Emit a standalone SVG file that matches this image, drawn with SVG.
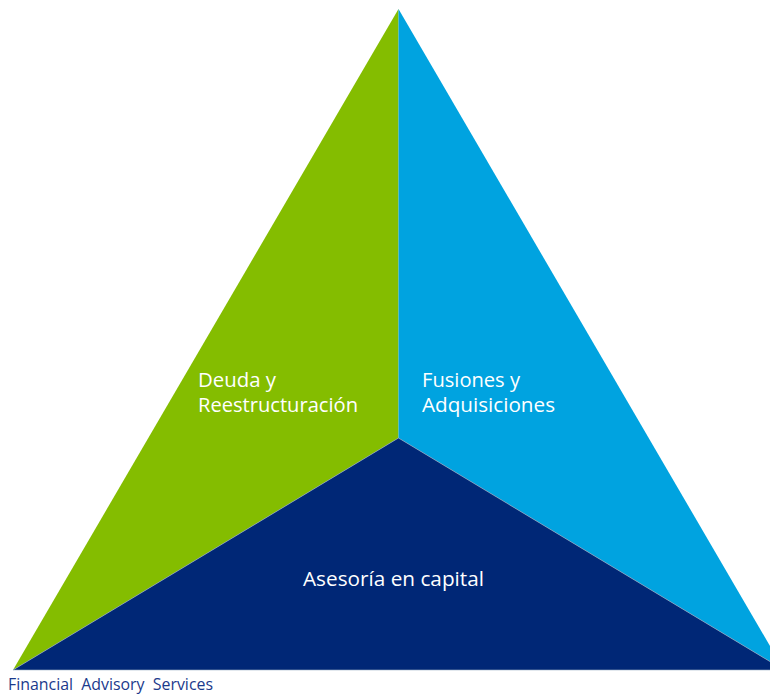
<svg xmlns="http://www.w3.org/2000/svg" width="770" height="694" viewBox="0 0 770 694">
<style>
.lbl{font-family:"Open Sans","Noto Sans",sans-serif;font-size:20px;fill:#ffffff}
.cap{font-family:"Open Sans","Noto Sans",sans-serif;font-size:16px;fill:#1b3a8c;white-space:pre}
</style>
<rect width="770" height="694" fill="#ffffff"/>
<g id="deuda">
<polygon points="398.5,9 13,670 398.5,438" fill="#84bd00"/>
<text class="lbl" x="198" y="387" textLength="78" lengthAdjust="spacingAndGlyphs">Deuda y</text>
<text class="lbl" x="198" y="412" textLength="160" lengthAdjust="spacingAndGlyphs">Reestructuración</text>
</g>
<g id="fusiones">
<polygon points="398.5,9 784,670 398.5,438" fill="#00a3e0"/>
<text class="lbl" x="422" y="387" textLength="98" lengthAdjust="spacingAndGlyphs">Fusiones y</text>
<text class="lbl" x="422" y="412" textLength="133" lengthAdjust="spacingAndGlyphs">Adquisiciones</text>
</g>
<g id="capital">
<polygon points="13,670 398.5,438 784,670" fill="#002776" stroke="#9fb4c8" stroke-width="0.6" stroke-linejoin="round"/>
<text class="lbl" x="303" y="586" textLength="181" lengthAdjust="spacingAndGlyphs">Asesoría en capital</text>
</g>
<g id="connectors"></g>
<text class="cap" x="8" y="690" textLength="205" lengthAdjust="spacingAndGlyphs" xml:space="preserve">Financial  Advisory  Services</text>
</svg>
